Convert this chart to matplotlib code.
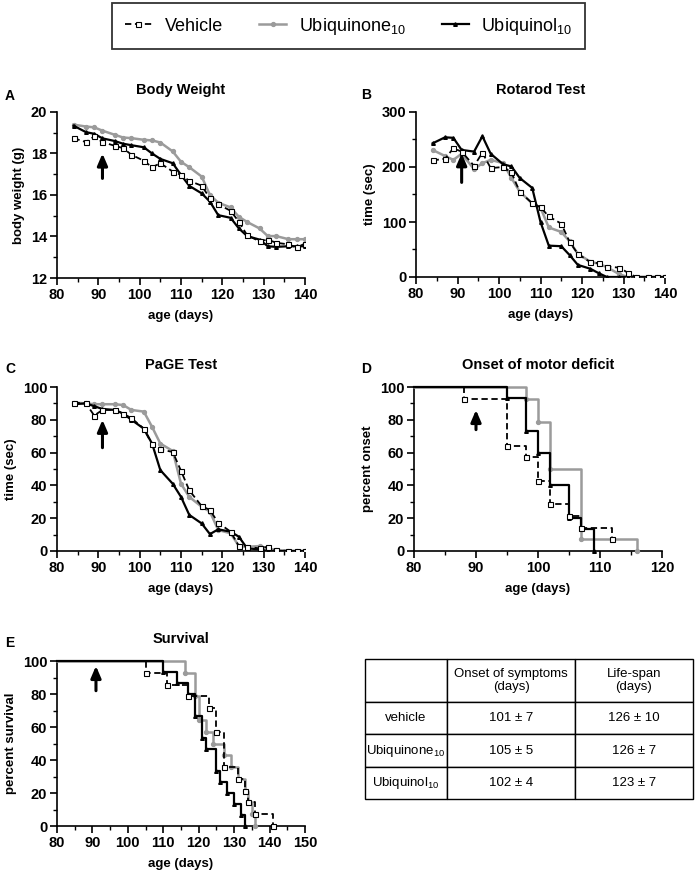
import numpy as np
import matplotlib
matplotlib.use('Agg')
import matplotlib.pyplot as plt
from matplotlib.lines import Line2D
from matplotlib.ticker import AutoMinorLocator

plt.rcParams['font.family'] = ['Liberation Sans', 'DejaVu Sans']
plt.rcParams['mathtext.fontset'] = 'custom'
plt.rcParams['mathtext.rm'] = 'Liberation Sans'
plt.rcParams['mathtext.it'] = 'Liberation Sans:italic'
plt.rcParams['mathtext.bf'] = 'Liberation Sans:bold'
plt.rcParams['mathtext.default'] = 'regular'

# measurement days for the longitudinal tests
ages = [84, 87, 89, 91, 94, 96, 98, 101, 103, 105, 108, 110, 112, 115, 117,
        119, 122, 124, 126, 129, 131, 133, 136, 138, 140]

# A - body weight (g)
bw_vehicle = [18.74, 18.55, 18.82, 18.55, 18.37, 18.26, 17.94, 17.65, 17.34, 17.53, 17.13, 16.97, 16.68,
              16.45, 15.84, 15.55, 15.24, 14.71, 14.06, 13.77, 13.85, 13.70, 13.62, 13.47, 13.66]
bw_quinone = [19.39, 19.30, 19.26, 19.10, 18.90, 18.77, 18.74, 18.66, 18.63, 18.53, 18.10, 17.60, 17.34,
              16.89, 16.00, 15.63, 15.40, 14.95, 14.70, 14.39, 14.02, 14.02, 13.87, 13.87, 13.87]
bw_quinol = [19.34, 19.03, 18.95, 18.73, 18.60, 18.47, 18.40, 18.30, 18.00, 17.74, 17.53, 16.97, 16.44,
             16.08, 15.68, 15.03, 14.90, 14.39, 14.02, 13.85, 13.53, 13.50, 13.53, 13.53, 13.53]

# B - rotarod (sec)
rr_vehicle = [212, 215, 234, 228, 202, 226, 198, 200, 190, 155, 134, 127, 110,
              97, 64, 42, 27, 25, 19, 17, 8, 0, 0, 0, 0]
rr_quinone = [231, 220, 213, 224, 196, 207, 213, 207, 180, 155, 134, 126, 90,
              82, 65, 42, 28, 24, 18, 5, 0, 0, 0, 0, 0]
rr_quinol = [243, 254, 253, 231, 228, 256, 224, 205, 201, 180, 162, 100, 57,
             56, 40, 22, 15, 7, 0, 0, 0, 0, 0, 0, 0]

# C - PaGE (sec)
pg_vehicle = [90.5, 90, 82.6, 86, 86, 83.8, 81, 74.6, 65, 61.9, 60.4, 48.9, 37,
              27.4, 25, 17.2, 11.8, 3, 2.6, 1.6, 2.6, 0.6, 0, 0, 0]
pg_quinone = [90.5, 90, 89.5, 89.5, 89.5, 89, 86, 85, 75.7, 65.5, 61, 41, 33,
              27, 24, 12.8, 10.8, 3, 2.6, 3, 1.6, 0.6, 0, 0, 0]
pg_quinol = [89.5, 90, 88.3, 86.6, 86, 83.8, 80, 74.6, 65.5, 49.3, 41, 33, 22,
             16.8, 10.3, 13.2, 11.8, 8.7, 1.6, 1, 0, 0, 0, 0, 0]

# D - onset of motor deficit (percent)
on_vehicle_t = [80, 88, 95, 98, 100, 102, 105, 107, 112]
on_vehicle = [100, 92.9, 64.3, 57.1, 42.9, 28.6, 21.4, 14.3, 7.1]
on_quinone_t = [80, 98, 100, 102, 107, 116]
on_quinone = [100, 92.9, 78.6, 50, 7.1, 0]
on_quinol_t = [80, 95, 98, 100, 102, 105, 107, 109]
on_quinol = [100, 93.3, 73.3, 60, 40, 20, 13.3, 0]

# E - survival (percent)
sv_vehicle_t = [80, 105, 111, 117, 123, 125, 127, 131, 133, 134, 136, 141]
sv_vehicle = [100, 92.9, 85.7, 78.6, 71.4, 57.1, 35.7, 28.6, 21.4, 14.3, 7.1, 0]
sv_quinone_t = [80, 116, 119, 120, 122, 124, 127, 129, 131, 133, 134, 135, 136]
sv_quinone = [100, 92.9, 78.6, 64.3, 57.1, 50, 42.9, 35.7, 28.6, 21.4, 14.3, 7.1, 0]
sv_quinol_t = [80, 110, 114, 117, 119, 121, 122, 125, 126, 128, 130, 132, 133]
sv_quinol = [100, 93.3, 86.7, 80, 66.7, 53.3, 46.7, 33.3, 26.7, 20, 13.3, 6.7, 0]

# table
row_names = ['vehicle', 'Ubiquinone$_{10}$', 'Ubiquinol$_{10}$']
onset_txt = ['101 ± 7', '105 ± 5', '102 ± 4']
lifespan_txt = ['126 ± 10', '126 ± 7', '123 ± 7']

GRAY = '#9b9b9b'
W, H = 697, 872
fig = plt.figure(figsize=(W / 100, H / 100), dpi=100)


def add_ax(left, top, right, bottom):
    return fig.add_axes([left / W, 1 - bottom / H, (right - left) / W, (bottom - top) / H])


sty_v = dict(color='black', ls=(0, (3.5, 2)), lw=1.3, marker='s', ms=3.6, mfc='white', mec='black', mew=0.8)
sty_q = dict(color=GRAY, lw=1.8, marker='o', ms=2.8, mfc=GRAY, mec=GRAY)
sty_l = dict(color='black', lw=1.6, marker='^', ms=2.6, mfc='black', mec='black')


def style(ax, xlim, ylim, xticks, yticks, ylabel, title, letter, lpos):
    ax.set_xlim(*xlim)
    ax.set_ylim(*ylim)
    ax.set_xticks(xticks)
    ax.set_yticks(yticks)
    ax.xaxis.set_minor_locator(AutoMinorLocator(2))
    ax.yaxis.set_minor_locator(AutoMinorLocator(2))
    for s in ['top', 'right']:
        ax.spines[s].set_visible(False)
    for s in ['left', 'bottom']:
        ax.spines[s].set_linewidth(1.2)
    ax.tick_params(which='major', length=5, width=1.2, labelsize=10.5, pad=2)
    ax.tick_params(which='minor', length=3, width=1.0)
    for lab in ax.get_xticklabels() + ax.get_yticklabels():
        lab.set_fontweight('bold')
    ax.set_xlabel('age (days)', fontsize=9.5, fontweight='bold', labelpad=6)
    ax.set_ylabel(ylabel, fontsize=9.5, fontweight='bold', labelpad=4)
    ax.set_title(title, fontsize=10.5, fontweight='bold', pad=13)
    fig.text(lpos[0] / W, 1 - lpos[1] / H, letter, fontsize=10, fontweight='bold', va='center', ha='left')


def arrow(ax, x, y0, y1):
    ax.annotate('', xy=(x, y1), xytext=(x, y0),
                arrowprops=dict(arrowstyle='-|>,head_width=0.3,head_length=0.7', lw=2.2, color='black',
                                shrinkA=0, shrinkB=0))


# A
axA = add_ax(57, 112, 305, 278)
axA.plot(ages, bw_quinone, **sty_q, zorder=3)
axA.plot(ages, bw_quinol, **sty_l, zorder=4)
axA.plot(ages, bw_vehicle, **sty_v, zorder=5)
style(axA, (80, 140), (12, 20), range(80, 141, 10), range(12, 21, 2), 'body weight (g)', 'Body Weight', 'A', (5, 96))
arrow(axA, 91, 16.8, 18.0)

# B
axB = add_ax(416, 112, 665, 277)
axB.plot(ages, rr_quinone, **sty_q, zorder=3)
axB.plot(ages, rr_quinol, **sty_l, zorder=4)
axB.plot(ages, rr_vehicle, **sty_v, zorder=5)
style(axB, (80, 140), (0, 300), range(80, 141, 10), range(0, 301, 100), 'time (sec)', 'Rotarod Test', 'B', (361, 95))
arrow(axB, 91, 172, 225)

# C
axC = add_ax(57, 387, 305, 551)
axC.plot(ages, pg_quinone, **sty_q, zorder=3)
axC.plot(ages, pg_quinol, **sty_l, zorder=4)
axC.plot(ages, pg_vehicle, **sty_v, zorder=5)
style(axC, (80, 140), (0, 100), range(80, 141, 10), range(0, 101, 20), 'time (sec)', 'PaGE Test', 'C', (5, 369))
arrow(axC, 91, 63, 80)

# D
axD = add_ax(414, 387, 662, 551)
axD.plot(on_quinone_t, on_quinone, drawstyle='steps-post', markevery=slice(1, None), clip_on=False, **sty_q, zorder=3)
axD.plot(on_quinol_t, on_quinol, drawstyle='steps-post', markevery=slice(1, None), clip_on=False, **sty_l, zorder=4)
axD.plot(on_vehicle_t, on_vehicle, drawstyle='steps-post', markevery=slice(1, None), clip_on=False, **sty_v, zorder=5)
style(axD, (80, 120), (0, 100), range(80, 121, 10), range(0, 101, 20), 'percent onset', 'Onset of motor deficit', 'D', (361, 369))
arrow(axD, 90, 74, 86)

# E
axE = add_ax(57, 661, 305, 826)
axE.plot(sv_quinone_t, sv_quinone, drawstyle='steps-post', markevery=slice(1, None), clip_on=False, **sty_q, zorder=3)
axE.plot(sv_quinol_t, sv_quinol, drawstyle='steps-post', markevery=slice(1, None), clip_on=False, **sty_l, zorder=4)
axE.plot(sv_vehicle_t, sv_vehicle, drawstyle='steps-post', markevery=slice(1, None), clip_on=False, **sty_v, zorder=5)
style(axE, (80, 150), (0, 100), range(80, 151, 10), range(0, 101, 20), 'percent survival', 'Survival', 'E', (5, 643))
arrow(axE, 91, 82, 97)

# legend
handles = [Line2D([], [], **sty_v), Line2D([], [], **sty_q), Line2D([], [], **sty_l)]
labels = ['Vehicle', 'Ubiquinone$_{10}$', 'Ubiquinol$_{10}$']
leg = fig.legend(handles, labels, loc='upper center', bbox_to_anchor=(0.5, 1 - 3 / H), ncol=3,
                 prop={'size': 13}, frameon=True, fancybox=False,
                 edgecolor='black', handlelength=1.5, columnspacing=2.0, handletextpad=0.7,
                 borderpad=0.7, borderaxespad=0)
leg.get_frame().set_linewidth(1.3)

# table
axT = add_ax(365, 659, 693, 799)
axT.axis('off')
cells = [['', 'Onset of symptoms\n(days)', 'Life-span\n(days)']]
for name, on, ls in zip(row_names, onset_txt, lifespan_txt):
    cells.append([name, on, ls])
tab = axT.table(cellText=cells, cellLoc='center', bbox=[0, 0, 1, 1], colWidths=[82, 128, 118])
tab.auto_set_font_size(False)
row_h = [43, 32, 33, 32]
for (r, c), cell in tab.get_celld().items():
    cell.set_height(row_h[r])
    cell.set_linewidth(1.0)
    cell.get_text().set_fontsize(9.5)

fig.savefig('out.png', dpi=100)
